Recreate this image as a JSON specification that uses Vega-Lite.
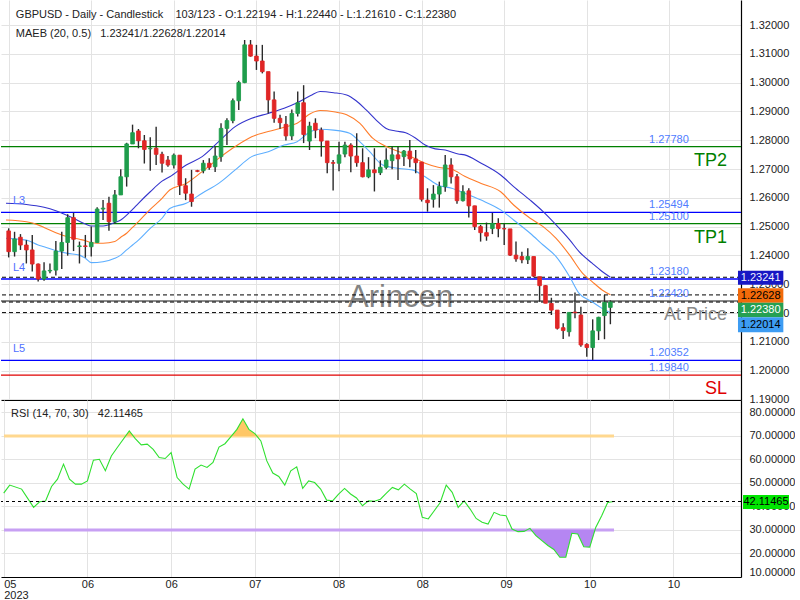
{
"$schema": "https://vega.github.io/schema/vega-lite/v6.json",
"padding": 0,
"background": "#ffffff",
"bounds": "flush",
"spacing": 0,
"config": {"view": {"stroke": null}, "font": "Liberation Sans", "axis": {"labelFont": "Liberation Sans", "labelFontSize": 11, "labelColor": "#222222", "gridColor": "#e3e3e3", "domainColor": "#000000", "domainWidth": 1.2, "ticks": false, "labelOverlap": false, "zindex": 0}},
"datasets": {
"candles": [
{"i":0,"o":1.2485,"h":1.2494,"l":1.2393,"c":1.2413},
{"i":1,"o":1.2413,"h":1.2482,"l":1.2396,"c":1.2457},
{"i":2,"o":1.2463,"h":1.2474,"l":1.2419,"c":1.2436},
{"i":3,"o":1.2436,"h":1.2453,"l":1.2372,"c":1.2419},
{"i":4,"o":1.2419,"h":1.2471,"l":1.2344,"c":1.2370},
{"i":5,"o":1.2370,"h":1.2372,"l":1.2309,"c":1.2318},
{"i":6,"o":1.2318,"h":1.2376,"l":1.2312,"c":1.2346},
{"i":7,"o":1.2346,"h":1.2372,"l":1.2338,"c":1.2348},
{"i":8,"o":1.2349,"h":1.2450,"l":1.2330,"c":1.2415},
{"i":9,"o":1.2415,"h":1.2482,"l":1.2353,"c":1.2445},
{"i":10,"o":1.2445,"h":1.2543,"l":1.2399,"c":1.2531},
{"i":11,"o":1.2531,"h":1.2548,"l":1.2415,"c":1.2456},
{"i":12,"o":1.2431,"h":1.2448,"l":1.2372,"c":1.2433},
{"i":13,"o":1.2433,"h":1.2471,"l":1.2392,"c":1.2431},
{"i":14,"o":1.2430,"h":1.2500,"l":1.2396,"c":1.2445},
{"i":15,"o":1.2445,"h":1.2567,"l":1.2444,"c":1.2561},
{"i":16,"o":1.2561,"h":1.2592,"l":1.2523,"c":1.2564},
{"i":17,"o":1.2581,"h":1.2604,"l":1.2486,"c":1.2517},
{"i":18,"o":1.2517,"h":1.2627,"l":1.2511,"c":1.2610},
{"i":19,"o":1.2610,"h":1.2699,"l":1.2610,"c":1.2673},
{"i":20,"o":1.2673,"h":1.2791,"l":1.2639,"c":1.2787},
{"i":21,"o":1.2787,"h":1.2854,"l":1.2787,"c":1.2826},
{"i":22,"o":1.2832,"h":1.2839,"l":1.2772,"c":1.2798},
{"i":23,"o":1.2798,"h":1.2818,"l":1.2719,"c":1.2768},
{"i":24,"o":1.2770,"h":1.2810,"l":1.2694,"c":1.2772},
{"i":25,"o":1.2772,"h":1.2847,"l":1.2714,"c":1.2751},
{"i":26,"o":1.2751,"h":1.2760,"l":1.2688,"c":1.2720},
{"i":27,"o":1.2731,"h":1.2745,"l":1.2708,"c":1.2714},
{"i":28,"o":1.2714,"h":1.2754,"l":1.2702,"c":1.2748},
{"i":29,"o":1.2748,"h":1.2748,"l":1.2610,"c":1.2644},
{"i":30,"o":1.2642,"h":1.2668,"l":1.2592,"c":1.2616},
{"i":31,"o":1.2613,"h":1.2697,"l":1.2569,"c":1.2587},
{"i":32,"o":1.2694,"h":1.2697,"l":1.2689,"c":1.2692},
{"i":33,"o":1.2694,"h":1.2731,"l":1.2685,"c":1.2720},
{"i":34,"o":1.2720,"h":1.2737,"l":1.2697,"c":1.2706},
{"i":35,"o":1.2708,"h":1.2778,"l":1.2690,"c":1.2745},
{"i":36,"o":1.2743,"h":1.2859,"l":1.2725,"c":1.2841},
{"i":37,"o":1.2841,"h":1.2876,"l":1.2783,"c":1.2868},
{"i":38,"o":1.2868,"h":1.2945,"l":1.2859,"c":1.2937},
{"i":39,"o":1.2937,"h":1.3006,"l":1.2905,"c":1.3000},
{"i":40,"o":1.3000,"h":1.3148,"l":1.2998,"c":1.3131},
{"i":41,"o":1.3131,"h":1.3148,"l":1.3090,"c":1.3092},
{"i":42,"o":1.3092,"h":1.3131,"l":1.3044,"c":1.3075},
{"i":43,"o":1.3075,"h":1.3131,"l":1.3032,"c":1.3038},
{"i":44,"o":1.3038,"h":1.3038,"l":1.2893,"c":1.2940},
{"i":45,"o":1.2940,"h":1.2969,"l":1.2861,"c":1.2876},
{"i":46,"o":1.2876,"h":1.2888,"l":1.2840,"c":1.2861},
{"i":47,"o":1.2855,"h":1.2884,"l":1.2799,"c":1.2815},
{"i":48,"o":1.2815,"h":1.2907,"l":1.2801,"c":1.2893},
{"i":49,"o":1.2893,"h":1.2969,"l":1.2882,"c":1.2930},
{"i":50,"o":1.2930,"h":1.2991,"l":1.2790,"c":1.2820},
{"i":51,"o":1.2797,"h":1.2864,"l":1.2766,"c":1.2849},
{"i":52,"o":1.2859,"h":1.2876,"l":1.2807,"c":1.2835},
{"i":53,"o":1.2835,"h":1.2844,"l":1.2743,"c":1.2797},
{"i":54,"o":1.2797,"h":1.2797,"l":1.2685,"c":1.2722},
{"i":55,"o":1.2722,"h":1.2731,"l":1.2625,"c":1.2720},
{"i":56,"o":1.2720,"h":1.2795,"l":1.2692,"c":1.2749},
{"i":57,"o":1.2752,"h":1.2795,"l":1.2741,"c":1.2783},
{"i":58,"o":1.2783,"h":1.2789,"l":1.2689,"c":1.2745},
{"i":59,"o":1.2745,"h":1.2824,"l":1.2708,"c":1.2722},
{"i":60,"o":1.2722,"h":1.2772,"l":1.2671,"c":1.2673},
{"i":61,"o":1.2673,"h":1.2741,"l":1.2668,"c":1.2697},
{"i":62,"o":1.2697,"h":1.2772,"l":1.2622,"c":1.2687},
{"i":63,"o":1.2687,"h":1.2730,"l":1.2679,"c":1.2706},
{"i":64,"o":1.2706,"h":1.2772,"l":1.2699,"c":1.2731},
{"i":65,"o":1.2729,"h":1.2778,"l":1.2699,"c":1.2749},
{"i":66,"o":1.2749,"h":1.2778,"l":1.2662,"c":1.2735},
{"i":67,"o":1.2743,"h":1.2766,"l":1.2710,"c":1.2762},
{"i":68,"o":1.2762,"h":1.2801,"l":1.2706,"c":1.2735},
{"i":69,"o":1.2735,"h":1.2766,"l":1.2685,"c":1.2722},
{"i":70,"o":1.2724,"h":1.2724,"l":1.2587,"c":1.2595},
{"i":71,"o":1.2592,"h":1.2633,"l":1.2552,"c":1.2583},
{"i":72,"o":1.2595,"h":1.2644,"l":1.2566,"c":1.2613},
{"i":73,"o":1.2613,"h":1.2656,"l":1.2566,"c":1.2639},
{"i":74,"o":1.2639,"h":1.2749,"l":1.2621,"c":1.2714},
{"i":75,"o":1.2714,"h":1.2737,"l":1.2650,"c":1.2673},
{"i":76,"o":1.2673,"h":1.2683,"l":1.2579,"c":1.2590},
{"i":77,"o":1.2590,"h":1.2644,"l":1.2587,"c":1.2621},
{"i":78,"o":1.2624,"h":1.2633,"l":1.2532,"c":1.2572},
{"i":79,"o":1.2572,"h":1.2572,"l":1.2488,"c":1.2500},
{"i":80,"o":1.2500,"h":1.2506,"l":1.2448,"c":1.2479},
{"i":81,"o":1.2479,"h":1.2514,"l":1.2451,"c":1.2467},
{"i":82,"o":1.2493,"h":1.2548,"l":1.2474,"c":1.2511},
{"i":83,"o":1.2511,"h":1.2529,"l":1.2463,"c":1.2493},
{"i":84,"o":1.2493,"h":1.2511,"l":1.2436,"c":1.2492},
{"i":85,"o":1.2492,"h":1.2492,"l":1.2398,"c":1.2401},
{"i":86,"o":1.2401,"h":1.2448,"l":1.2378,"c":1.2388},
{"i":87,"o":1.2396,"h":1.2413,"l":1.2373,"c":1.2385},
{"i":88,"o":1.2385,"h":1.2425,"l":1.2370,"c":1.2396},
{"i":89,"o":1.2396,"h":1.2396,"l":1.2324,"c":1.2328},
{"i":90,"o":1.2326,"h":1.2326,"l":1.2239,"c":1.2295},
{"i":91,"o":1.2295,"h":1.2297,"l":1.2234,"c":1.2234},
{"i":92,"o":1.2233,"h":1.2253,"l":1.2193,"c":1.2210},
{"i":93,"o":1.2210,"h":1.2210,"l":1.2143,"c":1.2147},
{"i":94,"o":1.2149,"h":1.2164,"l":1.2110,"c":1.2139},
{"i":95,"o":1.2135,"h":1.2202,"l":1.2118,"c":1.2202},
{"i":96,"o":1.2203,"h":1.2271,"l":1.2182,"c":1.2201},
{"i":97,"o":1.2193,"h":1.2222,"l":1.2083,"c":1.2089},
{"i":98,"o":1.2091,"h":1.2095,"l":1.2048,"c":1.2080},
{"i":99,"o":1.2080,"h":1.2178,"l":1.2037,"c":1.2138},
{"i":100,"o":1.2138,"h":1.2187,"l":1.2106,"c":1.2185},
{"i":101,"o":1.2191,"h":1.2263,"l":1.2109,"c":1.2237},
{"i":102,"o":1.22194,"h":1.2244,"l":1.2161,"c":1.2238}
],
"ma": [
{"s":"U","x":-0.45,"v":1.2581},{"s":"U","x":3,"v":1.2577},{"s":"U","x":6,"v":1.2567},{"s":"U","x":8,"v":1.2555},{"s":"U","x":11,"v":1.2529},{"s":"U","x":13,"v":1.2509},{"s":"U","x":14,"v":1.2502},{"s":"U","x":16,"v":1.2502},{"s":"U","x":18,"v":1.2514},{"s":"U","x":19,"v":1.2523},{"s":"U","x":20,"v":1.2540},{"s":"U","x":21,"v":1.2560},{"s":"U","x":22,"v":1.2581},{"s":"U","x":24,"v":1.2621},{"s":"U","x":26,"v":1.2658},{"s":"U","x":27.3,"v":1.2673},{"s":"U","x":30.1,"v":1.2714},{"s":"U","x":32.8,"v":1.2743},{"s":"U","x":35.6,"v":1.2795},{"s":"U","x":38.4,"v":1.2847},{"s":"U","x":41.2,"v":1.2876},{"s":"U","x":44,"v":1.2893},{"s":"U","x":46.7,"v":1.2911},{"s":"U","x":48.9,"v":1.2930},{"s":"U","x":51.2,"v":1.2955},{"s":"U","x":52.8,"v":1.2969},{"s":"U","x":55.1,"v":1.2965},{"s":"U","x":57.3,"v":1.2957},{"s":"U","x":58.9,"v":1.2937},{"s":"U","x":60.6,"v":1.2905},{"s":"U","x":62.3,"v":1.2870},{"s":"U","x":64,"v":1.2841},{"s":"U","x":65.6,"v":1.2832},{"s":"U","x":67.3,"v":1.2826},{"s":"U","x":69,"v":1.2807},{"s":"U","x":70.6,"v":1.2783},{"s":"U","x":72.3,"v":1.2770},{"s":"U","x":74,"v":1.2766},{"s":"U","x":76.2,"v":1.2752},{"s":"U","x":77.3,"v":1.2749},{"s":"U","x":80.1,"v":1.2720},{"s":"U","x":83.4,"v":1.2679},{"s":"U","x":85.6,"v":1.2639},{"s":"U","x":88.4,"v":1.2592},{"s":"U","x":90.6,"v":1.2552},{"s":"U","x":92.8,"v":1.2506},{"s":"U","x":95.1,"v":1.2454},{"s":"U","x":96.7,"v":1.2413},{"s":"U","x":98.9,"v":1.2373},{"s":"U","x":100.6,"v":1.2344},{"s":"U","x":102,"v":1.2324},
{"s":"M","x":-0.45,"v":1.2523},{"s":"M","x":3,"v":1.2517},{"s":"M","x":5,"v":1.2506},{"s":"M","x":6,"v":1.2497},{"s":"M","x":8,"v":1.2479},{"s":"M","x":10,"v":1.2465},{"s":"M","x":12,"v":1.2456},{"s":"M","x":13,"v":1.2451},{"s":"M","x":14,"v":1.2444},{"s":"M","x":16,"v":1.2442},{"s":"M","x":18,"v":1.2448},{"s":"M","x":19,"v":1.2463},{"s":"M","x":20,"v":1.2477},{"s":"M","x":21,"v":1.2497},{"s":"M","x":22,"v":1.2517},{"s":"M","x":24,"v":1.2560},{"s":"M","x":26,"v":1.2598},{"s":"M","x":27.3,"v":1.2627},{"s":"M","x":30.1,"v":1.2650},{"s":"M","x":32.8,"v":1.2691},{"s":"M","x":35.6,"v":1.2737},{"s":"M","x":38.4,"v":1.2778},{"s":"M","x":41.2,"v":1.2812},{"s":"M","x":44,"v":1.2830},{"s":"M","x":46.7,"v":1.2845},{"s":"M","x":48.9,"v":1.2859},{"s":"M","x":51.2,"v":1.2893},{"s":"M","x":52.8,"v":1.2903},{"s":"M","x":55.1,"v":1.2899},{"s":"M","x":57.3,"v":1.2888},{"s":"M","x":59.5,"v":1.2859},{"s":"M","x":61.7,"v":1.2807},{"s":"M","x":64,"v":1.2778},{"s":"M","x":66.2,"v":1.2760},{"s":"M","x":68.4,"v":1.2741},{"s":"M","x":70.6,"v":1.2720},{"s":"M","x":72.8,"v":1.2706},{"s":"M","x":75.1,"v":1.2699},{"s":"M","x":77.3,"v":1.2675},{"s":"M","x":80.1,"v":1.2650},{"s":"M","x":83.4,"v":1.2621},{"s":"M","x":85.6,"v":1.2575},{"s":"M","x":88.4,"v":1.2529},{"s":"M","x":90.6,"v":1.2500},{"s":"M","x":92.8,"v":1.2459},{"s":"M","x":95.1,"v":1.2401},{"s":"M","x":97.3,"v":1.2338},{"s":"M","x":98.9,"v":1.2309},{"s":"M","x":100.6,"v":1.2280},{"s":"M","x":102,"v":1.2263},
{"s":"L","x":-0.45,"v":1.2459},{"s":"L","x":3,"v":1.2453},{"s":"L","x":5,"v":1.2436},{"s":"L","x":6,"v":1.2430},{"s":"L","x":8,"v":1.2416},{"s":"L","x":10,"v":1.2407},{"s":"L","x":12,"v":1.2401},{"s":"L","x":13,"v":1.2390},{"s":"L","x":14,"v":1.2375},{"s":"L","x":16,"v":1.2378},{"s":"L","x":18,"v":1.2390},{"s":"L","x":19,"v":1.2401},{"s":"L","x":20,"v":1.2419},{"s":"L","x":21,"v":1.2436},{"s":"L","x":22,"v":1.2453},{"s":"L","x":24,"v":1.2494},{"s":"L","x":26,"v":1.2529},{"s":"L","x":27.3,"v":1.2563},{"s":"L","x":30.1,"v":1.2581},{"s":"L","x":32.8,"v":1.2616},{"s":"L","x":35.6,"v":1.2650},{"s":"L","x":38.4,"v":1.2697},{"s":"L","x":41.2,"v":1.2743},{"s":"L","x":44,"v":1.2760},{"s":"L","x":46.7,"v":1.2783},{"s":"L","x":48.9,"v":1.2795},{"s":"L","x":51.2,"v":1.2830},{"s":"L","x":52.8,"v":1.2838},{"s":"L","x":55.1,"v":1.2835},{"s":"L","x":57.8,"v":1.2824},{"s":"L","x":59.5,"v":1.2795},{"s":"L","x":61.2,"v":1.2760},{"s":"L","x":63.4,"v":1.2714},{"s":"L","x":66.2,"v":1.2702},{"s":"L","x":68.4,"v":1.2697},{"s":"L","x":70.6,"v":1.2673},{"s":"L","x":72.8,"v":1.2644},{"s":"L","x":75.1,"v":1.2633},{"s":"L","x":77.3,"v":1.2616},{"s":"L","x":80.1,"v":1.2592},{"s":"L","x":83.4,"v":1.2558},{"s":"L","x":85.6,"v":1.2523},{"s":"L","x":88.4,"v":1.2477},{"s":"L","x":90.6,"v":1.2436},{"s":"L","x":92.8,"v":1.2396},{"s":"L","x":95.1,"v":1.2326},{"s":"L","x":96.7,"v":1.2268},{"s":"L","x":98.9,"v":1.2239},{"s":"L","x":100.6,"v":1.2216},{"s":"L","x":102,"v":1.2201}
],
"levels": [
{"name":"TP2","kind":"TP","v":1.2778},
{"name":"L3","kind":"LV","v":1.25494},
{"name":"TP1","kind":"TP","v":1.251},
{"name":"L4","kind":"LV","v":1.2318},
{"name":"At Price","kind":"AP","v":1.2242},
{"name":"L5","kind":"LV","v":1.20352},
{"name":"SL","kind":"SL","v":1.1984}
],
"tags": [{"v":1.23241},{"v":1.22628},{"v":1.2238},{"v":1.22014}],
"rsi": [
{"i":0,"r":45.7},{"i":1,"r":49.1},{"i":3,"r":47.4},{"i":5,"r":39.6},{"i":6,"r":42.0},{"i":7,"r":42.3},{"i":8,"r":48.5},{"i":9,"r":51.6},{"i":10,"r":58.0},{"i":11,"r":51.6},{"i":12,"r":49.5},{"i":13,"r":49.5},{"i":14,"r":50.9},{"i":15,"r":59.7},{"i":16,"r":60.1},{"i":17,"r":55.2},{"i":18,"r":61.5},{"i":19,"r":65.1},{"i":21,"r":72.1},{"i":22,"r":68.9},{"i":23,"r":66.2},{"i":24,"r":66.5},{"i":25,"r":64.3},{"i":26,"r":60.8},{"i":27,"r":60.4},{"i":28,"r":62.9},{"i":29,"r":52.3},{"i":30,"r":49.5},{"i":31,"r":47.4},{"i":32,"r":55.9},{"i":33,"r":57.6},{"i":34,"r":56.6},{"i":35,"r":58.7},{"i":36,"r":65.3},{"i":37,"r":66.7},{"i":38,"r":69.7},{"i":39,"r":72.8},{"i":40,"r":77.3},{"i":41,"r":72.8},{"i":42,"r":71.0},{"i":43,"r":67.9},{"i":44,"r":59.4},{"i":45,"r":54.2},{"i":46,"r":52.8},{"i":47,"r":49.1},{"i":48,"r":55.2},{"i":49,"r":56.9},{"i":50,"r":47.7},{"i":51,"r":50.9},{"i":52,"r":50.2},{"i":53,"r":47.4},{"i":54,"r":42.7},{"i":55,"r":42.4},{"i":56,"r":45.3},{"i":57,"r":47.7},{"i":58,"r":45.3},{"i":59,"r":43.6},{"i":60,"r":40.3},{"i":61,"r":42.4},{"i":62,"r":42.2},{"i":63,"r":43.1},{"i":64,"r":45.7},{"i":65,"r":48.1},{"i":66,"r":47.1},{"i":67,"r":49.5},{"i":68,"r":47.4},{"i":69,"r":45.5},{"i":70,"r":35.4},{"i":71,"r":34.7},{"i":72,"r":38.2},{"i":73,"r":41.7},{"i":74,"r":49.1},{"i":75,"r":46.0},{"i":76,"r":39.6},{"i":77,"r":42.4},{"i":78,"r":38.9},{"i":79,"r":34.9},{"i":80,"r":33.3},{"i":81,"r":32.5},{"i":82,"r":37.5},{"i":83,"r":36.4},{"i":84,"r":36.1},{"i":85,"r":30.4},{"i":86,"r":29.3},{"i":87,"r":29.4},{"i":88,"r":30.7},{"i":89,"r":27.6},{"i":90,"r":25.5},{"i":91,"r":23.4},{"i":92,"r":21.7},{"i":93,"r":18.4},{"i":94,"r":18.4},{"i":95,"r":28.6},{"i":96,"r":28.3},{"i":97,"r":22.9},{"i":98,"r":22.7},{"i":99,"r":31.1},{"i":100,"r":36.1},{"i":101,"r":41.7},{"i":102,"r":42.11}
],
"ob": [
{"seg":"a","x":20.4,"r":70},{"seg":"a","x":21,"r":72.1},{"seg":"a","x":21.66,"r":70},
{"seg":"b","x":38.1,"r":70},{"seg":"b","x":39,"r":72.8},{"seg":"b","x":40,"r":77.3},{"seg":"b","x":41,"r":72.8},{"seg":"b","x":42,"r":71.0},{"seg":"b","x":42.3,"r":70}
],
"os": [
{"seg":"d","x":85.36,"r":30},{"seg":"d","x":86,"r":29.3},{"seg":"d","x":87,"r":29.4},{"seg":"d","x":87.46,"r":30},
{"seg":"e","x":88.23,"r":30},{"seg":"e","x":89,"r":27.6},{"seg":"e","x":90,"r":25.5},{"seg":"e","x":91,"r":23.4},{"seg":"e","x":92,"r":21.7},{"seg":"e","x":93,"r":18.4},{"seg":"e","x":94,"r":18.4},{"seg":"e","x":95,"r":28.6},{"seg":"e","x":96,"r":28.3},{"seg":"e","x":97,"r":22.9},{"seg":"e","x":98,"r":22.7},{"seg":"e","x":98.92,"r":30}
]
},
"vconcat": [
{
"width": 740, "height": 400,
"layer": [
{"data": {"name": "levels"}, "mark": {"type": "rule"},
 "encoding": {
  "y": {"field": "v", "type": "quantitative", "scale": {"domain": [1.189792, 1.328681], "nice": false, "zero": false},
        "axis": {"orient": "right", "title": null, "values": [1.19,1.2,1.21,1.22,1.23,1.24,1.25,1.26,1.27,1.28,1.29,1.3,1.31,1.32], "tickCount": 30, "format": ".5f", "grid": true, "domain": true, "labelPadding": 8, "labelOverlap": false, "zindex": 0}},
  "color": {"field": "kind", "type": "nominal", "scale": {"domain": ["TP","LV","AP","SL"], "range": ["#008000","#0000ff","#8a8a8a","#e00000"]}, "legend": null},
  "strokeWidth": {"condition": {"test": "datum.kind == 'AP'", "value": 2}, "value": 1.3}}},
{"data": {"values": [{}]}, "mark": {"type": "text", "text": "Arincen", "fontSize": 31, "color": "#6e6e6e", "opacity": 0.85, "align": "center", "baseline": "middle"},
 "encoding": {"x": {"datum": 66.44, "type": "quantitative", "scale": {"domain": [-0.4515, 123.294], "nice": false, "zero": false}}, "y": {"datum": 1.225208, "type": "quantitative"}}},
{"data": {"name": "tags"}, "mark": {"type": "rule", "color": "#000000", "strokeDash": [4, 3], "strokeWidth": 1},
 "encoding": {"y": {"field": "v", "type": "quantitative"}}},
{"data": {"name": "ma"}, "mark": {"type": "line", "strokeWidth": 1.1, "interpolate": "monotone"},
 "encoding": {
  "x": {"field": "x", "type": "quantitative", "scale": {"domain": [-0.4515, 123.294], "nice": false, "zero": false}},
  "y": {"field": "v", "type": "quantitative"},
  "stroke": {"field": "s", "type": "nominal", "scale": {"domain": ["U","M","L"], "range": ["#3434cc","#ff7c2a","#5caeff"]}, "legend": null},
  "order": {"field": "x", "type": "quantitative"}}},
{"data": {"name": "candles"}, "mark": {"type": "rule", "color": "#2a2a2a", "strokeWidth": 1.4},
 "encoding": {
  "x": {"field": "i", "type": "quantitative", "scale": {"domain": [-0.4515, 123.294], "nice": false, "zero": false},
        "axis": {"title": null, "values": [0,14,28,42,56,70,84,98,112], "tickCount": 30, "labels": false, "grid": true, "domain": true, "zindex": 0}},
  "y": {"field": "l", "type": "quantitative"},
  "y2": {"field": "h"}}},
{"data": {"name": "candles"}, "mark": {"type": "bar", "width": 3.6, "strokeWidth": 0.9},
 "encoding": {
  "x": {"field": "i", "type": "quantitative"},
  "y": {"field": "o", "type": "quantitative"},
  "y2": {"field": "c"},
  "fill": {"condition": {"test": "datum.c >= datum.o", "value": "#1f9d4c"}, "value": "#e02626"},
  "stroke": {"condition": {"test": "datum.c >= datum.o", "value": "#1f9d4c"}, "value": "#e02626"}}},
{"data": {"name": "levels"}, "mark": {"type": "text", "fontSize": 11, "color": "#4f7cff", "align": "center", "baseline": "middle", "dy": -7},
 "encoding": {"x": {"datum": 111.92, "type": "quantitative"}, "y": {"field": "v", "type": "quantitative"}, "text": {"field": "v", "type": "quantitative", "format": ".5f"}}},
{"data": {"name": "levels"}, "transform": [{"filter": "datum.kind != 'LV'"}], "mark": {"type": "text", "fontSize": 18, "align": "right", "baseline": "middle", "dy": 14},
 "encoding": {"x": {"datum": 121.79, "type": "quantitative"}, "y": {"field": "v", "type": "quantitative"}, "text": {"field": "name"},
  "color": {"field": "kind", "type": "nominal", "scale": {"domain": ["TP","LV","AP","SL"], "range": ["#008000","#0000ff","#8a8a8a","#e00000"]}, "legend": null}}},
{"data": {"name": "levels"}, "transform": [{"filter": "datum.kind == 'LV'"}], "mark": {"type": "text", "fontSize": 11, "color": "#4f6fff", "align": "left", "baseline": "middle", "dy": -11},
 "encoding": {"x": {"datum": 0.72, "type": "quantitative"}, "y": {"field": "v", "type": "quantitative"}, "text": {"field": "name"}}},
{"data": {"values": [{}]}, "mark": {"type": "text", "text": "GBPUSD - Daily - Candlestick\u00a0\u00a0\u00a0\u00a0103/123 - O:1.22194 - H:1.22440 - L:1.21610 - C:1.22380", "fontSize": 11, "color": "#222222", "align": "left", "baseline": "middle"},
 "encoding": {"x": {"datum": 1.22, "type": "quantitative"}, "y": {"datum": 1.323472, "type": "quantitative"}}},
{"data": {"values": [{}]}, "mark": {"type": "text", "text": "MAEB (20, 0.5)\u00a0\u00a0\u00a01.23241/1.22628/1.22014", "fontSize": 11, "color": "#222222", "align": "left", "baseline": "middle"},
 "encoding": {"x": {"datum": 1.22, "type": "quantitative"}, "y": {"datum": 1.316875, "type": "quantitative"}}},
{"data": {"name": "tags"}, "transform": [{"filter": "datum.v == 1.23241"}],
 "layer": [
  {"mark": {"type": "rect", "fill": "#1717c4", "yOffset": -6.6, "y2Offset": 7.4}, "encoding": {"x": {"datum": 123.63, "type": "quantitative"}, "x2": {"datum": 131.32}, "y": {"field": "v", "type": "quantitative"}, "y2": {"field": "v"}}},
  {"mark": {"type": "text", "fill": "#f0f0ff", "fontSize": 11, "align": "center", "baseline": "middle", "yOffset": 0.7}, "encoding": {"x": {"datum": 127.47, "type": "quantitative"}, "y": {"field": "v", "type": "quantitative"}, "text": {"field": "v", "type": "quantitative", "format": ".5f"}}}
 ]},
{"data": {"name": "tags"}, "transform": [{"filter": "datum.v == 1.22628"}],
 "layer": [
  {"mark": {"type": "rect", "fill": "#f26a0a", "yOffset": -6.6, "y2Offset": 7.8}, "encoding": {"x": {"datum": 123.63, "type": "quantitative"}, "x2": {"datum": 131.32}, "y": {"field": "v", "type": "quantitative"}, "y2": {"field": "v"}}},
  {"mark": {"type": "text", "fill": "#000000", "fontSize": 11, "align": "center", "baseline": "middle", "yOffset": 0.6}, "encoding": {"x": {"datum": 127.47, "type": "quantitative"}, "y": {"field": "v", "type": "quantitative"}, "text": {"field": "v", "type": "quantitative", "format": ".5f"}}}
 ]},
{"data": {"name": "tags"}, "transform": [{"filter": "datum.v == 1.2238"}],
 "layer": [
  {"mark": {"type": "rect", "fill": "#25a052", "yOffset": 0.6, "y2Offset": 15.2}, "encoding": {"x": {"datum": 123.63, "type": "quantitative"}, "x2": {"datum": 131.32}, "y": {"field": "v", "type": "quantitative"}, "y2": {"field": "v"}}},
  {"mark": {"type": "text", "fill": "#ffffff", "fontSize": 11, "align": "center", "baseline": "middle", "yOffset": 7.9}, "encoding": {"x": {"datum": 127.47, "type": "quantitative"}, "y": {"field": "v", "type": "quantitative"}, "text": {"field": "v", "type": "quantitative", "format": ".5f"}}}
 ]},
{"data": {"name": "tags"}, "transform": [{"filter": "datum.v == 1.22014"}],
 "layer": [
  {"mark": {"type": "rect", "fill": "#3d9cf2", "yOffset": 4.7, "y2Offset": 19.7}, "encoding": {"x": {"datum": 123.63, "type": "quantitative"}, "x2": {"datum": 131.32}, "y": {"field": "v", "type": "quantitative"}, "y2": {"field": "v"}}},
  {"mark": {"type": "text", "fill": "#000000", "fontSize": 11, "align": "center", "baseline": "middle", "yOffset": 12.2}, "encoding": {"x": {"datum": 127.47, "type": "quantitative"}, "y": {"field": "v", "type": "quantitative"}, "text": {"field": "v", "type": "quantitative", "format": ".5f"}}}
 ]}
]
},
{
"width": 740, "height": 177,
"layer": [
{"data": {"values": [{}]}, "mark": {"type": "rule", "color": "#ffd88f", "strokeWidth": 3},
 "encoding": {"x": {"datum": 0.05, "type": "quantitative", "scale": {"domain": [-0.4515, 123.294], "nice": false, "zero": false}}, "x2": {"datum": 102.06},
  "y": {"datum": 70, "type": "quantitative", "scale": {"domain": [10, 85.3], "nice": false, "zero": false}}}},
{"data": {"values": [{}]}, "mark": {"type": "rule", "color": "#c7a0f3", "strokeWidth": 3},
 "encoding": {"x": {"datum": 0.05, "type": "quantitative"}, "x2": {"datum": 102.06}, "y": {"datum": 30, "type": "quantitative"}}},
{"data": {"name": "ob"}, "mark": {"type": "area", "color": "#ffc766"},
 "encoding": {"x": {"field": "x", "type": "quantitative"}, "y": {"field": "r", "type": "quantitative"}, "y2": {"datum": 70}, "detail": {"field": "seg"}}},
{"data": {"name": "os"}, "mark": {"type": "area", "color": "#b586f2"},
 "encoding": {"x": {"field": "x", "type": "quantitative"}, "y": {"field": "r", "type": "quantitative"}, "y2": {"datum": 30}, "detail": {"field": "seg"}}},
{"data": {"name": "rsi"}, "mark": {"type": "line", "color": "#2fe02f", "strokeWidth": 1.1},
 "encoding": {
  "x": {"field": "i", "type": "quantitative", "scale": {"domain": [-0.4515, 123.294], "nice": false, "zero": false},
        "axis": {"title": null, "values": [0,14,28,42,56,70,84,98,112], "tickCount": 30, "labelExpr": "datum.value == 0 ? ['\u00a0\u00a005', '2023'] : datum.value <= 28 ? '06' : datum.value == 42 ? '07' : datum.value <= 70 ? '08' : datum.value == 84 ? '09' : '10'", "grid": true, "domain": true, "labelPadding": 1, "labelFlush": 3, "labelLineHeight": 11, "zindex": 0}},
  "y": {"field": "r", "type": "quantitative", "scale": {"domain": [10, 85.3], "nice": false, "zero": false},
        "axis": {"orient": "right", "title": null, "values": [10,20,30,40,50,60,70,80], "tickCount": 30, "format": ".5f", "grid": true, "domain": true, "labelPadding": 8, "labelFlush": 1, "labelOverlap": false, "zindex": 0}}}},
{"data": {"values": [{}]}, "mark": {"type": "rule", "color": "#000000", "strokeDash": [3, 3], "strokeWidth": 1},
 "encoding": {"y": {"datum": 42.11465, "type": "quantitative"}}},
{"data": {"values": [{"r": 42.11465}]},
 "layer": [
  {"mark": {"type": "rect", "fill": "#00e600", "yOffset": -6.5, "y2Offset": 7.5}, "encoding": {"x": {"datum": 123.63, "type": "quantitative"}, "x2": {"datum": 131.32}, "y": {"field": "r", "type": "quantitative"}, "y2": {"field": "r"}}},
  {"mark": {"type": "text", "fill": "#000000", "fontSize": 11, "align": "center", "baseline": "middle", "yOffset": 0.5}, "encoding": {"x": {"datum": 127.47, "type": "quantitative"}, "y": {"field": "r", "type": "quantitative"}, "text": {"field": "r", "type": "quantitative", "format": ".5f"}}}
 ]},
{"data": {"values": [{}]}, "mark": {"type": "text", "text": "RSI (14, 70, 30)\u00a0\u00a0\u00a042.11465", "fontSize": 11, "color": "#222222", "align": "left", "baseline": "middle"},
 "encoding": {"x": {"datum": 1.22, "type": "quantitative"}, "y": {"datum": 79.34, "type": "quantitative"}}}
]
}
]
}
